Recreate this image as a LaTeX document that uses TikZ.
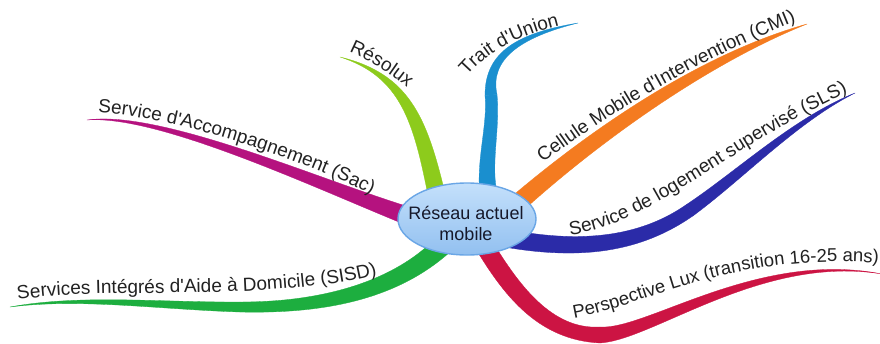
\documentclass[tikz,border=0pt]{standalone}
\usepackage{fontspec}
\setmainfont{Liberation Sans}[Ligatures=TeXOff]
\usetikzlibrary{calc,shapes.geometric,decorations.text}

% branch colours
\definecolor{sacc}{HTML}{B5127F}
\definecolor{resc}{HTML}{8DCB1C}
\definecolor{trac}{HTML}{1A8FCF}
\definecolor{cmic}{HTML}{F47B20}
\definecolor{slsc}{HTML}{2B2BA8}
\definecolor{perc}{HTML}{CC1443}
\definecolor{sisc}{HTML}{1DAE3F}
% central bubble
\definecolor{hubtop}{HTML}{C4E0FB}
\definecolor{hubbot}{HTML}{92C0F0}
\definecolor{hubline}{HTML}{6AA6E6}
\definecolor{hubtxt}{HTML}{16182A}
\definecolor{lbltxt}{HTML}{222222}

% One tapered piece of a branch: a cubic spine A..B..C..D whose
% half-width is #6 at A, #7 at B, #8 at C and #9 at D.
\newcommand\seg[9]{%
  \fill[#1, draw=#1, line width=0.3pt]
    ($#2!#6!90:#3$) .. controls ($#3!#7!90:#4$) and ($#4!#8!-90:#3$) .. ($#5!#9!-90:#4$)
    -- ($#5!#9!90:#4$) .. controls ($#4!#8!90:#3$) and ($#3!#7!-90:#4$) .. ($#2!#6!-90:#3$)
    -- cycle;}
\newcommand\lblfont{\fontsize{19}{19}\selectfont}
\newcommand\lblfontsm{\fontsize{18.5}{18.5}\selectfont}

\begin{document}
\begin{tikzpicture}[x=1pt, y=-1pt,
  lbl/.style={decorate, decoration={text along path, text color=lbltxt}},
  hubshape/.style={ellipse, minimum width=138pt, minimum height=72pt, inner sep=0pt,
    draw=hubline, line width=1.4pt, top color=hubtop, bottom color=hubbot},
  hubtext/.style={align=center, text=hubtxt, inner sep=0pt,
    font=\fontsize{18}{21}\selectfont}]

\fill[white] (0,0) rectangle (880,343);
\useasboundingbox (0,0) rectangle (880,343);

% branch ends (under the bubble), joints and tips
\coordinate (sac0) at (408,216);  \coordinate (sactip) at (87,120);
\coordinate (res0) at (436,192);  \coordinate (restip) at (340,57);
\coordinate (tra0) at (488,190);  \coordinate (traj) at (491,95);   \coordinate (tratip) at (578,23);
\coordinate (cmi0) at (518,203);  \coordinate (cmitip) at (807,24);
\coordinate (sls0) at (505,238);  \coordinate (slsj) at (690,210);  \coordinate (slstip) at (855,93);
\coordinate (per0) at (487,250);  \coordinate (perj) at (600,335);  \coordinate (pertip) at (882,274);
\coordinate (sis0) at (445,243);  \coordinate (sisj) at (240,307);  \coordinate (sistip) at (10,307);

% tapered branches
\seg{sacc}{(sac0)}{(320,185)}{(160,112)}{(sactip)}{9pt}{4.8pt}{2.8pt}{0pt}
\seg{resc}{(res0)}{(420,120)}{(405,75)}{(restip)}{8.5pt}{7pt}{4.5pt}{0pt}
\seg{trac}{(tra0)}{(484,160)}{(494,125)}{(traj)}{8.5pt}{7.5pt}{6.5pt}{6pt}
\seg{trac}{(traj)}{(487,55)}{(520,35)}{(tratip)}{6pt}{4.5pt}{2.5pt}{0pt}
\seg{cmic}{(cmi0)}{(590,140)}{(700,60)}{(cmitip)}{9pt}{7.5pt}{6.5pt}{0pt}
\seg{slsc}{(sls0)}{(580,252)}{(640,245)}{(slsj)}{9pt}{8.5pt}{7.5pt}{6.5pt}
\seg{slsc}{(slsj)}{(740,175)}{(795,120)}{(slstip)}{6.5pt}{5pt}{3pt}{0pt}
\seg{perc}{(per0)}{(512,290)}{(545,335)}{(perj)}{9pt}{9pt}{8.5pt}{8pt}
\seg{perc}{(perj)}{(650,335)}{(760,252)}{(pertip)}{8pt}{6pt}{3pt}{0pt}
\seg{sisc}{(sis0)}{(395,292)}{(320,308)}{(sisj)}{10pt}{9pt}{6pt}{5pt}
\seg{sisc}{(sisj)}{(160,306)}{(80,296)}{(sistip)}{5pt}{3.5pt}{2pt}{0pt}

% central bubble
\node[hubshape] (hub) at (467,219) {};
\node[hubtext] (hubtxt) at (466,223) {Réseau actuel\\mobile};

% labels set along their branches
\path[lbl, decoration={text={|\lblfont|Service d'Accompagnement (Sac)}}]
  (98,113) .. controls (150,113) and (295,152) .. (385,202);
\path[lbl, decoration={text={|\lblfont|Résolux}}]
  (349,52) .. controls (372,62) and (392,74) .. (415,95);
\path[lbl, decoration={text={|\lblfont|Trait d'Union}}]
  (467,76) .. controls (485,55) and (515,33) .. (580,21);
\path[lbl, decoration={text={|\lblfont|Cellule Mobile d'Intervention (CMI)}}]
  (543,163) .. controls (600,120) and (690,62) .. (810,16);
\path[lbl, decoration={text={|\lblfont|Service de logement supervisé (SLS)}}]
  (570,235) .. controls (650,225) and (730,145) .. (855,89);
\path[lbl, decoration={text={|\lblfontsm|Perspective Lux (transition 16-25 ans)}}]
  (574,318) .. controls (650,305) and (730,250) .. (890,264);
\path[lbl, decoration={text={|\lblfont|Services Intégrés d'Aide à Domicile (SISD)}}]
  (18,300) .. controls (100,285) and (280,305) .. (395,270);
\end{tikzpicture}
\end{document}
